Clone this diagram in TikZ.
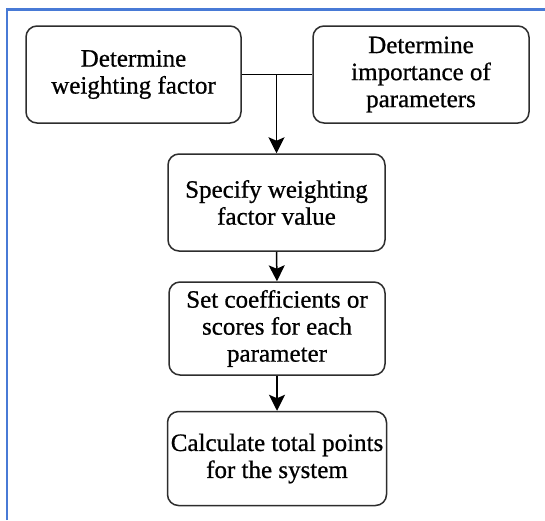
\documentclass[tikz,border=0pt]{standalone}
\usepackage{fontspec}
\setmainfont{Liberation Serif}[FakeBold=0.7]
\usetikzlibrary{arrows.meta}
\definecolor{frameblue}{RGB}{72,122,214}
\definecolor{boxline}{RGB}{45,45,45}
\tikzset{
  stepbox/.style={draw=boxline, line width=1.5pt, rounded corners=11pt,
    inner sep=0pt, align=center, font=\fontsize{25}{27}\selectfont},
  flowarrow/.style={draw=black, line width=1.5pt,
    -{Stealth[length=16pt,width=16pt,inset=3.5pt]}},
}
\begin{document}
\begin{tikzpicture}[x=1pt,y=-1pt]
\useasboundingbox (0,0) rectangle (545,520);
\fill[white] (0,0) rectangle (545,520);
\draw[frameblue, line width=2.2pt] (7,520) -- (7,9.5) -- (545,9.5);

\node[stepbox, minimum width=215pt, minimum height=97pt] (a) at (133.5,74.5) {Determine\\weighting factor};
\node[stepbox, minimum width=216pt, minimum height=97pt] (b) at (421,74.5) {Determine\\importance of\\parameters};
\node[stepbox, minimum width=217pt, minimum height=97pt] (c) at (276.5,202.5) {Specify weighting\\factor value};
\node[stepbox, minimum width=216pt, minimum height=93pt] (d) at (277,328.5) {Set coefficients or\\scores for each\\parameter};
\node[stepbox, minimum width=219pt, minimum height=94pt] (e) at (277,458.5) {Calculate total points\\for the system};

\coordinate (j) at (276.5,74.5);
\draw[draw=black, line width=1.5pt] (a.east) -- (b.west);
\draw[flowarrow] (j) -- (c.north);
\draw[flowarrow] (c.south) -- (d.north);
\draw[flowarrow] (d.south) -- (e.north);
\end{tikzpicture}
\end{document}
